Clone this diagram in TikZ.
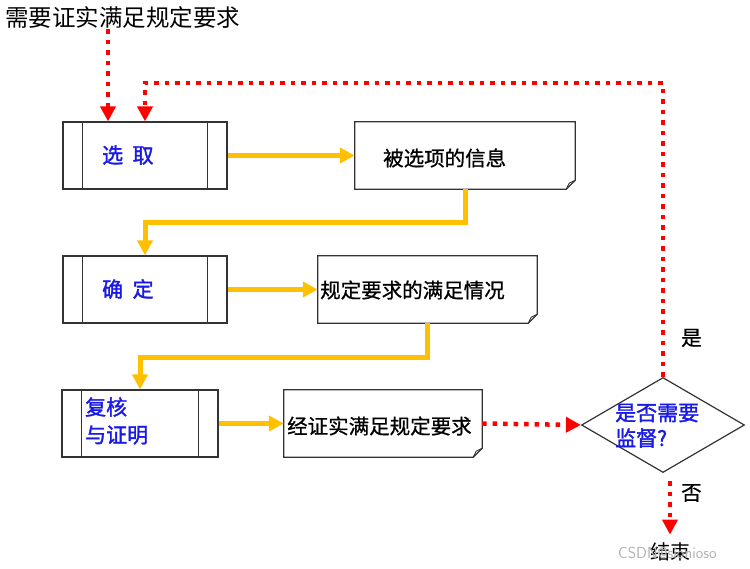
\documentclass[tikz,border=0pt]{standalone}
\usepackage{fontspec}
\setmainfont{Noto Sans CJK SC}
\newfontfamily\bluefont{Noto Sans CJK SC}[FakeBold=1.6]
\newfontfamily\boxfont{Noto Sans CJK SC}[FakeBold=0.8]
\usetikzlibrary{arrows.meta,shapes.geometric,calc}
\definecolor{flowyellow}{HTML}{FFC000}
\definecolor{flowred}{HTML}{FF0000}
\definecolor{flowblue}{HTML}{1A1AE6}
\definecolor{edgegray}{HTML}{333333}
\tikzset{
  pbox/.style={draw=edgegray, line width=1.2pt, rectangle, minimum width=#1, minimum height=67pt, inner sep=0pt},
  dbox/.style={rectangle, minimum width=#1, minimum height=67pt, inner sep=0pt},
  bluetxt/.style={text=flowblue, font=\bluefont\fontsize{21}{26}\selectfont, anchor=west, align=left, inner sep=0pt},
  blacktxt/.style={text=black, font=\boxfont\fontsize{20.5}{24}\selectfont, anchor=west, inner sep=0pt},
  yarrow/.style={draw=flowyellow, line width=5pt, -{Triangle[length=15pt,width=15pt]}},
  rarrow/.style={draw=flowred, line width=4.5pt, dash pattern=on 4.5pt off 6pt, -{Triangle[length=15pt,width=15pt]}},
}
\newcommand{\docshape}[1]{%
  \draw[edgegray, line width=1.2pt] (#1.north west) -- (#1.north east) -- ([yshift=9pt]#1.south east) -- ([xshift=-9pt]#1.south east) -- (#1.south west) -- cycle;
  \draw[edgegray, line width=0.8pt] ([yshift=9pt]#1.south east) -- ([xshift=-6pt,yshift=6pt]#1.south east) -- ([xshift=-9pt]#1.south east);
}
\newcommand{\procbars}[1]{%
  \draw[edgegray, line width=1.2pt] ([xshift=20pt]#1.north west) -- ([xshift=20pt]#1.south west);
  \draw[edgegray, line width=1.2pt] ([xshift=-20pt]#1.north east) -- ([xshift=-20pt]#1.south east);
}
\begin{document}
\begin{tikzpicture}[x=1pt,y=-1pt]
\useasboundingbox[fill=white] (0,0) rectangle (750,568);

% title
\node[text=black, font=\fontsize{23.5}{28}\selectfont, anchor=west, inner sep=0pt] (title) at (5,18) {需要证实满足规定要求};

% process boxes
\node[pbox=164pt] (p1) at (145,155.5) {};
\procbars{p1}
\node[bluetxt] (p1t) at (102,155) {选\hspace{0.45em}取};

\node[pbox=164pt] (p2) at (145,289.5) {};
\procbars{p2}
\node[bluetxt] (p2t) at (102,289) {确\hspace{0.45em}定};

\node[pbox=156pt] (p3) at (140,423.5) {};
\procbars{p3}
\node[bluetxt] (p3t) at (85,407) {复核};
\node[bluetxt] (p3u) at (85,435) {与证明};

% document boxes
\node[dbox=220pt] (d1) at (465,155.5) {};
\docshape{d1}
\node[blacktxt] (d1t) at (383,158) {被选项的信息};

\node[dbox=219pt] (d2) at (427.5,289.5) {};
\docshape{d2}
\node[blacktxt] (d2t) at (320,290) {规定要求的满足情况};

\node[dbox=198pt] (d3) at (383,423.5) {};
\docshape{d3}
\node[blacktxt] (d3t) at (287,426) {经证实满足规定要求};

% decision
\node[diamond, draw=edgegray, line width=1.2pt, minimum width=163pt, minimum height=95pt, inner sep=0pt] (dia) at (663,425) {};
\node[bluetxt] (diat) at (615,413) {是否需要};
\node[bluetxt] (diau) at (615,438) {监督?};

% labels
\node[blacktxt] (yes) at (681,338) {是};
\node[blacktxt] (no) at (681,493) {否};
\node[text=black, font=\fontsize{20}{24}\selectfont, inner sep=0pt] (stop) at (670,552) {结束};
\node[text=gray!60, font=\sffamily\fontsize{16}{18}\selectfont, anchor=west, inner sep=0pt] (wm) at (618,553) {CSDN@sionioso};

% yellow flow
\draw[yarrow] (p1.east) -- (d1.west);
\draw[yarrow] (d1.south) -- ++(0,33) -| (p2.north);
\draw[yarrow] (p2.east) -- (d2.west);
\draw[yarrow] (d2.south) -- ++(0,34) -| (p3.north);
\draw[yarrow] (p3.east) -- (d3.west);

% red flow
\coordinate (tin) at ($(p1.north)+(-37,0)$);
\draw[rarrow] (title.south -| tin) -- (tin);
\draw[rarrow] (d3.east) -- (dia.west);
\draw[rarrow] (dia.north) -- (663,83) -| (p1.north);
\draw[rarrow] ($(dia.south)+(7,8)$) -- ($(stop.north)+(0,-8)$);
\end{tikzpicture}
\end{document}
